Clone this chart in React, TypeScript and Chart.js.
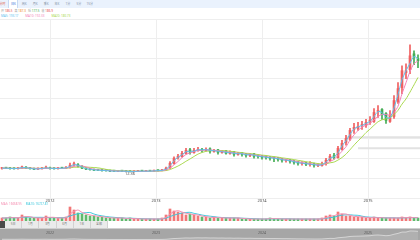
import React, { useEffect, useRef } from "react";
import { Chart, registerables } from "chart.js";

Chart.register(...registerables);

// ---------- data (one candle ≈ 2 weeks) ----------
const opens = [
  19.5, 20.5, 20, 19.5, 19, 20.5, 21.5, 20, 19, 18.5,
  19, 20, 21, 19.5, 19, 20.5, 20, 21, 27, 27,
  23, 19.5, 18, 17, 16.5, 16, 15.5, 14.5, 14.5, 13.5,
  14.5, 14, 13.8, 13, 13.5, 14.5, 13.5, 14.5, 14, 15.5,
  15, 16.5, 21, 29, 41, 43, 49, 57, 51, 55,
  58, 55, 59, 53, 57, 51, 55, 49, 53, 47,
  51, 49, 45, 49, 45, 43, 43, 41, 41, 40,
  39, 35, 37, 33, 33, 29, 31, 27, 29, 25,
  25, 29, 35, 45, 41, 58, 72, 78, 98, 100,
  106, 106, 114, 114, 134, 138, 130, 114, 124, 154,
  182, 212, 218, 250, 240,
];
const highs = [
  21, 21, 21, 20, 21, 24, 23, 21, 20, 20,
  21, 24, 22, 20, 21, 21.5, 23, 30, 32, 29,
  25, 21, 19, 18, 17, 17, 16, 16, 15, 15,
  15, 15, 14.5, 14.5, 15, 15, 15, 15, 16, 16,
  17, 22, 33, 43, 48, 54, 60, 60, 60, 62,
  60, 61, 61, 58, 58, 56, 56, 55, 54, 52,
  52, 50, 50, 50, 47, 46, 45, 44, 43, 42,
  40, 38, 38, 36, 34, 33, 32, 33, 30, 29,
  32, 40, 48, 50, 64, 76, 86, 100, 110, 112,
  114, 118, 124, 140, 146, 140, 132, 136, 166, 192,
  226, 230, 268, 256, 248,
];
const lows = [
  18, 19, 18, 18, 18, 19, 19, 18, 17, 17,
  18, 19, 18, 18, 18, 19, 19, 20, 24, 22,
  19, 17, 16, 15, 15, 14, 14, 13, 13, 13,
  13, 12.8, 12.36, 12.6, 13, 13, 13, 13.5, 13.5, 14,
  14.5, 15.5, 19, 28, 38, 42, 48, 48, 50, 54,
  52, 54, 50, 52, 48, 50, 48, 48, 44, 46,
  44, 42, 43, 40, 40, 38, 38, 36, 33, 34,
  32, 32, 30, 28, 26, 26, 25, 24, 22, 23,
  24, 26, 34, 38, 40, 56, 66, 76, 90, 96,
  98, 102, 108, 112, 122, 118, 110, 112, 120, 150,
  170, 200, 210, 228, 222,
];
const closes = [
  20, 20, 19, 19, 20, 22, 20, 19, 18, 19,
  20, 21, 19, 19, 20, 20, 21, 26, 28, 24,
  20, 18, 17, 16, 16, 15, 15, 14, 14, 14,
  14, 13.5, 13, 13.5, 14, 14, 14, 14, 15, 15,
  16, 20, 30, 40, 44, 50, 56, 52, 56, 58,
  56, 58, 54, 56, 52, 54, 50, 52, 48, 50,
  48, 46, 48, 44, 44, 42, 42, 40, 40, 38,
  36, 36, 34, 32, 30, 30, 28, 28, 26, 26,
  28, 36, 44, 42, 60, 70, 80, 96, 102, 104,
  108, 112, 116, 132, 136, 128, 116, 126, 156, 180,
  216, 216, 246, 244, 236,
];
const volumes = [
  15, 15, 20, 15, 15, 30, 20, 15, 15, 15,
  15, 25, 15, 15, 15, 15, 20, 70, 55, 40,
  35, 30, 25, 25, 20, 20, 15, 15, 15, 15,
  15, 10, 15, 10, 10, 10, 10, 10, 10, 10,
  15, 30, 60, 50, 45, 40, 30, 35, 30, 25,
  20, 20, 15, 20, 15, 15, 15, 15, 15, 15,
  10, 10, 10, 10, 10, 10, 10, 15, 10, 10,
  10, 10, 10, 10, 10, 10, 10, 10, 10, 10,
  15, 25, 30, 25, 45, 35, 25, 25, 20, 20,
  20, 15, 15, 20, 15, 15, 15, 15, 15, 15,
  20, 15, 20, 15, 15,
];

const yearLabels = ["2022", "2023", "2024", "2025"];
const yearTickIndex = [12, 38.5, 65, 91.5];

const maNames = ["MA5", "MA10", "MA20"];
const maPeriods = [2, 4, 8];
const maColors = ["#5ec0ee", "#f283b9", "#a9d84e"];
const maLegendValues = ["193.17", "192.33", "180.73"];

const volMaNames = ["MA5", "MA10"];
const volMaPeriods = [3, 6];
const volMaColors = ["#f48fb1", "#3fc7dc"];
const volMaLegendValues = ["16668.95", "16727.81"];

const priceLevels = [82, 60];
const priceLevelStart = [86, 89];

const tabLabels = ["分时", "日K", "周K", "月K", "季K", "年K", "1分", "5分", "15分"];
const rangeButtons = ["5日", "1月", "3月", "6月", "1年", "全部"];
const quoteLabels = ["开", "高", "低", "收"];
const quoteValues = ["186.5", "187.3", "177.5", "186.9"];
const quoteColors = ["#e84c4c", "#f08a24", "#39a845", "#e84c4c"];

const UP = "#f06060";
const DOWN = "#45ad55";
const UP_VOL = "rgba(240,96,96,0.85)";
const DOWN_VOL = "rgba(69,173,85,0.85)";

function movingAverage(values: number[], n: number): number[] {
  return values.map((_, i) => {
    const s = Math.max(0, i - n + 1);
    const part = values.slice(s, i + 1);
    return part.reduce((a, b) => a + b, 0) / part.length;
  });
}

const FONT = '"Noto Sans", "Noto Sans CJK SC", sans-serif';

export default function App() {
  const mainRef = useRef<HTMLCanvasElement>(null);
  const volRef = useRef<HTMLCanvasElement>(null);
  const navRef = useRef<HTMLCanvasElement>(null);

  useEffect(() => {
    document.body.style.margin = "0";
    Chart.defaults.font.family = FONT;
    const n = closes.length;
    const idx = closes.map((_, i) => i);
    const up = idx.map((i) => closes[i] >= opens[i]);
    const colors = up.map((u) => (u ? UP : DOWN));
    const volColors = up.map((u) => (u ? UP_VOL : DOWN_VOL));
    const charts: Chart[] = [];

    const yearScaleX = (showTicks: boolean) => ({
      type: "linear" as const,
      min: -0.5,
      max: n - 0.5,
      offset: false,
      afterBuildTicks: (s: any) => {
        s.ticks = yearTickIndex.map((v) => ({ value: v }));
      },
      ticks: {
        display: showTicks,
        autoSkip: false,
        maxRotation: 0,
        padding: 0,
        color: "#444",
        font: { size: 4, family: FONT },
        callback: (_v: any, i: number) => yearLabels[i] ?? "",
      },
      grid: { color: "#eeeeee", drawTicks: false, lineWidth: 1, offset: false },
      border: { display: false },
      afterFit: (s: any) => {
        s.height = showTicks ? 6 : 0;
      },
    });

    const lowMarker = {
      id: "lowMarker",
      afterDatasetsDraw(chart: any) {
        const minLow = Math.min(...lows);
        const i = lows.indexOf(minLow);
        const x = chart.scales.x.getPixelForValue(i);
        const y = chart.scales.y.getPixelForValue(minLow);
        const ctx = chart.ctx;
        ctx.save();
        ctx.font = `4px ${FONT}`;
        ctx.fillStyle = "#555";
        ctx.textAlign = "center";
        ctx.textBaseline = "middle";
        ctx.fillText(minLow.toFixed(2), x, y + 2);
        ctx.restore();
      },
    };

    if (mainRef.current) {
      charts.push(
        new Chart(mainRef.current, {
          type: "bar",
          data: {
            datasets: [
              ...priceLevels.map((lv, k) => ({
                type: "line" as const,
                data: [
                  { x: priceLevelStart[k], y: lv },
                  { x: n - 0.5, y: lv },
                ],
                borderColor: "#e2e2e2",
                borderWidth: 2,
                pointRadius: 0,
                order: 5,
              })),
              {
                type: "bar" as const,
                data: idx.map((i) => ({ x: i, y: [lows[i], highs[i]] })),
                backgroundColor: colors,
                barThickness: 1,
                grouped: false,
                order: 3,
              },
              {
                type: "bar" as const,
                data: idx.map((i) => ({ x: i, y: [opens[i], closes[i]] })),
                backgroundColor: colors,
                barThickness: 2,
                minBarLength: 1,
                grouped: false,
                order: 2,
              },
              ...maPeriods.map((p, k) => ({
                type: "line" as const,
                data: movingAverage(closes, p).map((v, i) => ({ x: i, y: v })),
                borderColor: maColors[k],
                borderWidth: 1,
                pointRadius: 0,
                tension: 0.2,
                order: 1,
              })),
            ] as any,
          },
          options: {
            responsive: false,
            animation: false,
            devicePixelRatio: 1,
            layout: { padding: 0 },
            plugins: { legend: { display: false }, tooltip: { enabled: false } },
            scales: {
              x: yearScaleX(true) as any,
              y: {
                min: -40,
                max: 320,
                ticks: { display: false, stepSize: 40 },
                grid: { color: "#eeeeee", drawTicks: false },
                border: { display: false },
                afterFit: (s: any) => {
                  s.width = 0;
                },
              },
            },
          },
          plugins: [lowMarker],
        })
      );
    }

    if (volRef.current) {
      charts.push(
        new Chart(volRef.current, {
          type: "bar",
          data: {
            datasets: [
              {
                type: "bar" as const,
                data: idx.map((i) => ({ x: i, y: volumes[i] })),
                backgroundColor: volColors,
                barThickness: 2,
                grouped: false,
                order: 2,
              },
              ...volMaPeriods.map((p, k) => ({
                type: "line" as const,
                data: movingAverage(volumes, p).map((v, i) => ({ x: i, y: v })),
                borderColor: volMaColors[k],
                borderWidth: 1,
                pointRadius: 0,
                tension: 0.2,
                order: 1,
              })),
            ] as any,
          },
          options: {
            responsive: false,
            animation: false,
            devicePixelRatio: 1,
            layout: { padding: 0 },
            plugins: { legend: { display: false }, tooltip: { enabled: false } },
            scales: {
              x: yearScaleX(false) as any,
              y: {
                min: 0,
                max: 100,
                ticks: { display: false },
                grid: { display: false },
                border: { display: false },
                afterFit: (s: any) => {
                  s.width = 0;
                },
              },
            },
          },
        })
      );
    }

    if (navRef.current) {
      charts.push(
        new Chart(navRef.current, {
          type: "line",
          data: {
            datasets: [
              {
                data: idx.map((i) => ({ x: i, y: closes[i] })),
                borderColor: "#d4d4d4",
                backgroundColor: "rgba(255,255,255,0.12)",
                fill: "origin",
                borderWidth: 1,
                pointRadius: 0,
              },
            ],
          },
          options: {
            responsive: false,
            animation: false,
            devicePixelRatio: 1,
            layout: { padding: 0 },
            plugins: { legend: { display: false }, tooltip: { enabled: false } },
            scales: {
              x: { type: "linear", min: -0.5, max: n - 0.5, display: false },
              y: { min: 0, max: 300, display: false },
            },
          },
        })
      );
    }

    return () => charts.forEach((c) => c.destroy());
  }, []);

  const tickX = (i: number) => (yearTickIndex[i] + 0.5) * 4;

  return (
    <div
      style={{
        position: "fixed",
        left: 0,
        top: 0,
        width: 420,
        height: 240,
        background: "#ffffff",
        overflow: "hidden",
        fontFamily: FONT,
      }}
    >
      {/* toolbar */}
      <div
        style={{
          position: "absolute",
          left: 0,
          top: 0,
          width: 420,
          height: 8,
          background: "#eaf2fd",
        }}
      />
      {tabLabels.map((t, i) => (
        <div
          key={t}
          style={{
            position: "absolute",
            left: -2.5 + i * 10.9,
            top: 0,
            width: 10,
            height: 8,
            lineHeight: "8px",
            fontSize: 3,
            textAlign: "center",
            color: i === 0 ? "#e0553c" : i === 1 ? "#2f6fd6" : "#7a8aa0",
            background: i === 1 ? "#ffffff" : "transparent",
            borderLeft: i === 1 ? "0.5px solid #c7d9f3" : "none",
            borderRight: i === 1 ? "0.5px solid #c7d9f3" : "none",
            boxSizing: "border-box",
            whiteSpace: "nowrap",
          }}
        >
          {t}
        </div>
      ))}

      {/* quote legend */}
      <div
        style={{
          position: "absolute",
          left: 1,
          top: 10,
          fontSize: 3,
          lineHeight: "3px",
          whiteSpace: "nowrap",
        }}
      >
        {quoteLabels.map((l, i) => (
          <span key={l} style={{ marginRight: 2 }}>
            <span style={{ color: "#999" }}>{l} </span>
            <span style={{ color: quoteColors[i] }}>{quoteValues[i]}</span>
          </span>
        ))}
      </div>
      <div
        style={{
          position: "absolute",
          left: 1,
          top: 14.5,
          fontSize: 3,
          lineHeight: "3px",
          whiteSpace: "nowrap",
        }}
      >
        {maNames.map((m, i) => (
          <span key={m} style={{ color: maColors[i], marginRight: 7 }}>
            {m}: {maLegendValues[i]}
          </span>
        ))}
      </div>

      {/* main chart */}
      <canvas
        ref={mainRef}
        width={420}
        height={185}
        style={{ position: "absolute", left: 0, top: 19, width: 420, height: 185 }}
      />

      {/* volume chart */}
      <canvas
        ref={volRef}
        width={420}
        height={20}
        style={{ position: "absolute", left: 0, top: 201, width: 420, height: 20 }}
      />
      <div
        style={{
          position: "absolute",
          left: 1,
          top: 202.5,
          fontSize: 3,
          lineHeight: "3px",
          whiteSpace: "nowrap",
        }}
      >
        {volMaNames.map((m, i) => (
          <span key={m} style={{ color: volMaColors[i], marginRight: 4 }}>
            {m}: {volMaLegendValues[i]}
          </span>
        ))}
      </div>

      {/* range buttons */}
      <div
        style={{
          position: "absolute",
          left: 0,
          top: 221,
          width: 5,
          height: 7,
          background: "#4a4a4a",
        }}
      />
      {rangeButtons.map((b, i) => (
        <div
          key={b}
          style={{
            position: "absolute",
            left: 5 + i * 17.2,
            top: 221,
            width: 17.2,
            height: 7,
            lineHeight: "7px",
            fontSize: 3,
            textAlign: "center",
            color: "#777",
            background: "#ebebeb",
            borderRight: "0.5px solid #d2d2d2",
            boxSizing: "border-box",
          }}
        >
          {b}
        </div>
      ))}

      {/* navigator */}
      <div
        style={{
          position: "absolute",
          left: 0,
          top: 228,
          width: 420,
          height: 12,
          background: "#a6a6a6",
          borderTop: "1px solid #cfcfcf",
          boxSizing: "border-box",
        }}
      />
      <canvas
        ref={navRef}
        width={420}
        height={11}
        style={{ position: "absolute", left: 0, top: 229, width: 420, height: 11 }}
      />
      {yearLabels.map((y, i) => (
        <div
          key={y}
          style={{
            position: "absolute",
            left: tickX(i) - 10,
            top: 231,
            width: 20,
            textAlign: "center",
            fontSize: 3.5,
            lineHeight: "4px",
            color: "#5a5a5a",
          }}
        >
          {y}
        </div>
      ))}
    </div>
  );
}
